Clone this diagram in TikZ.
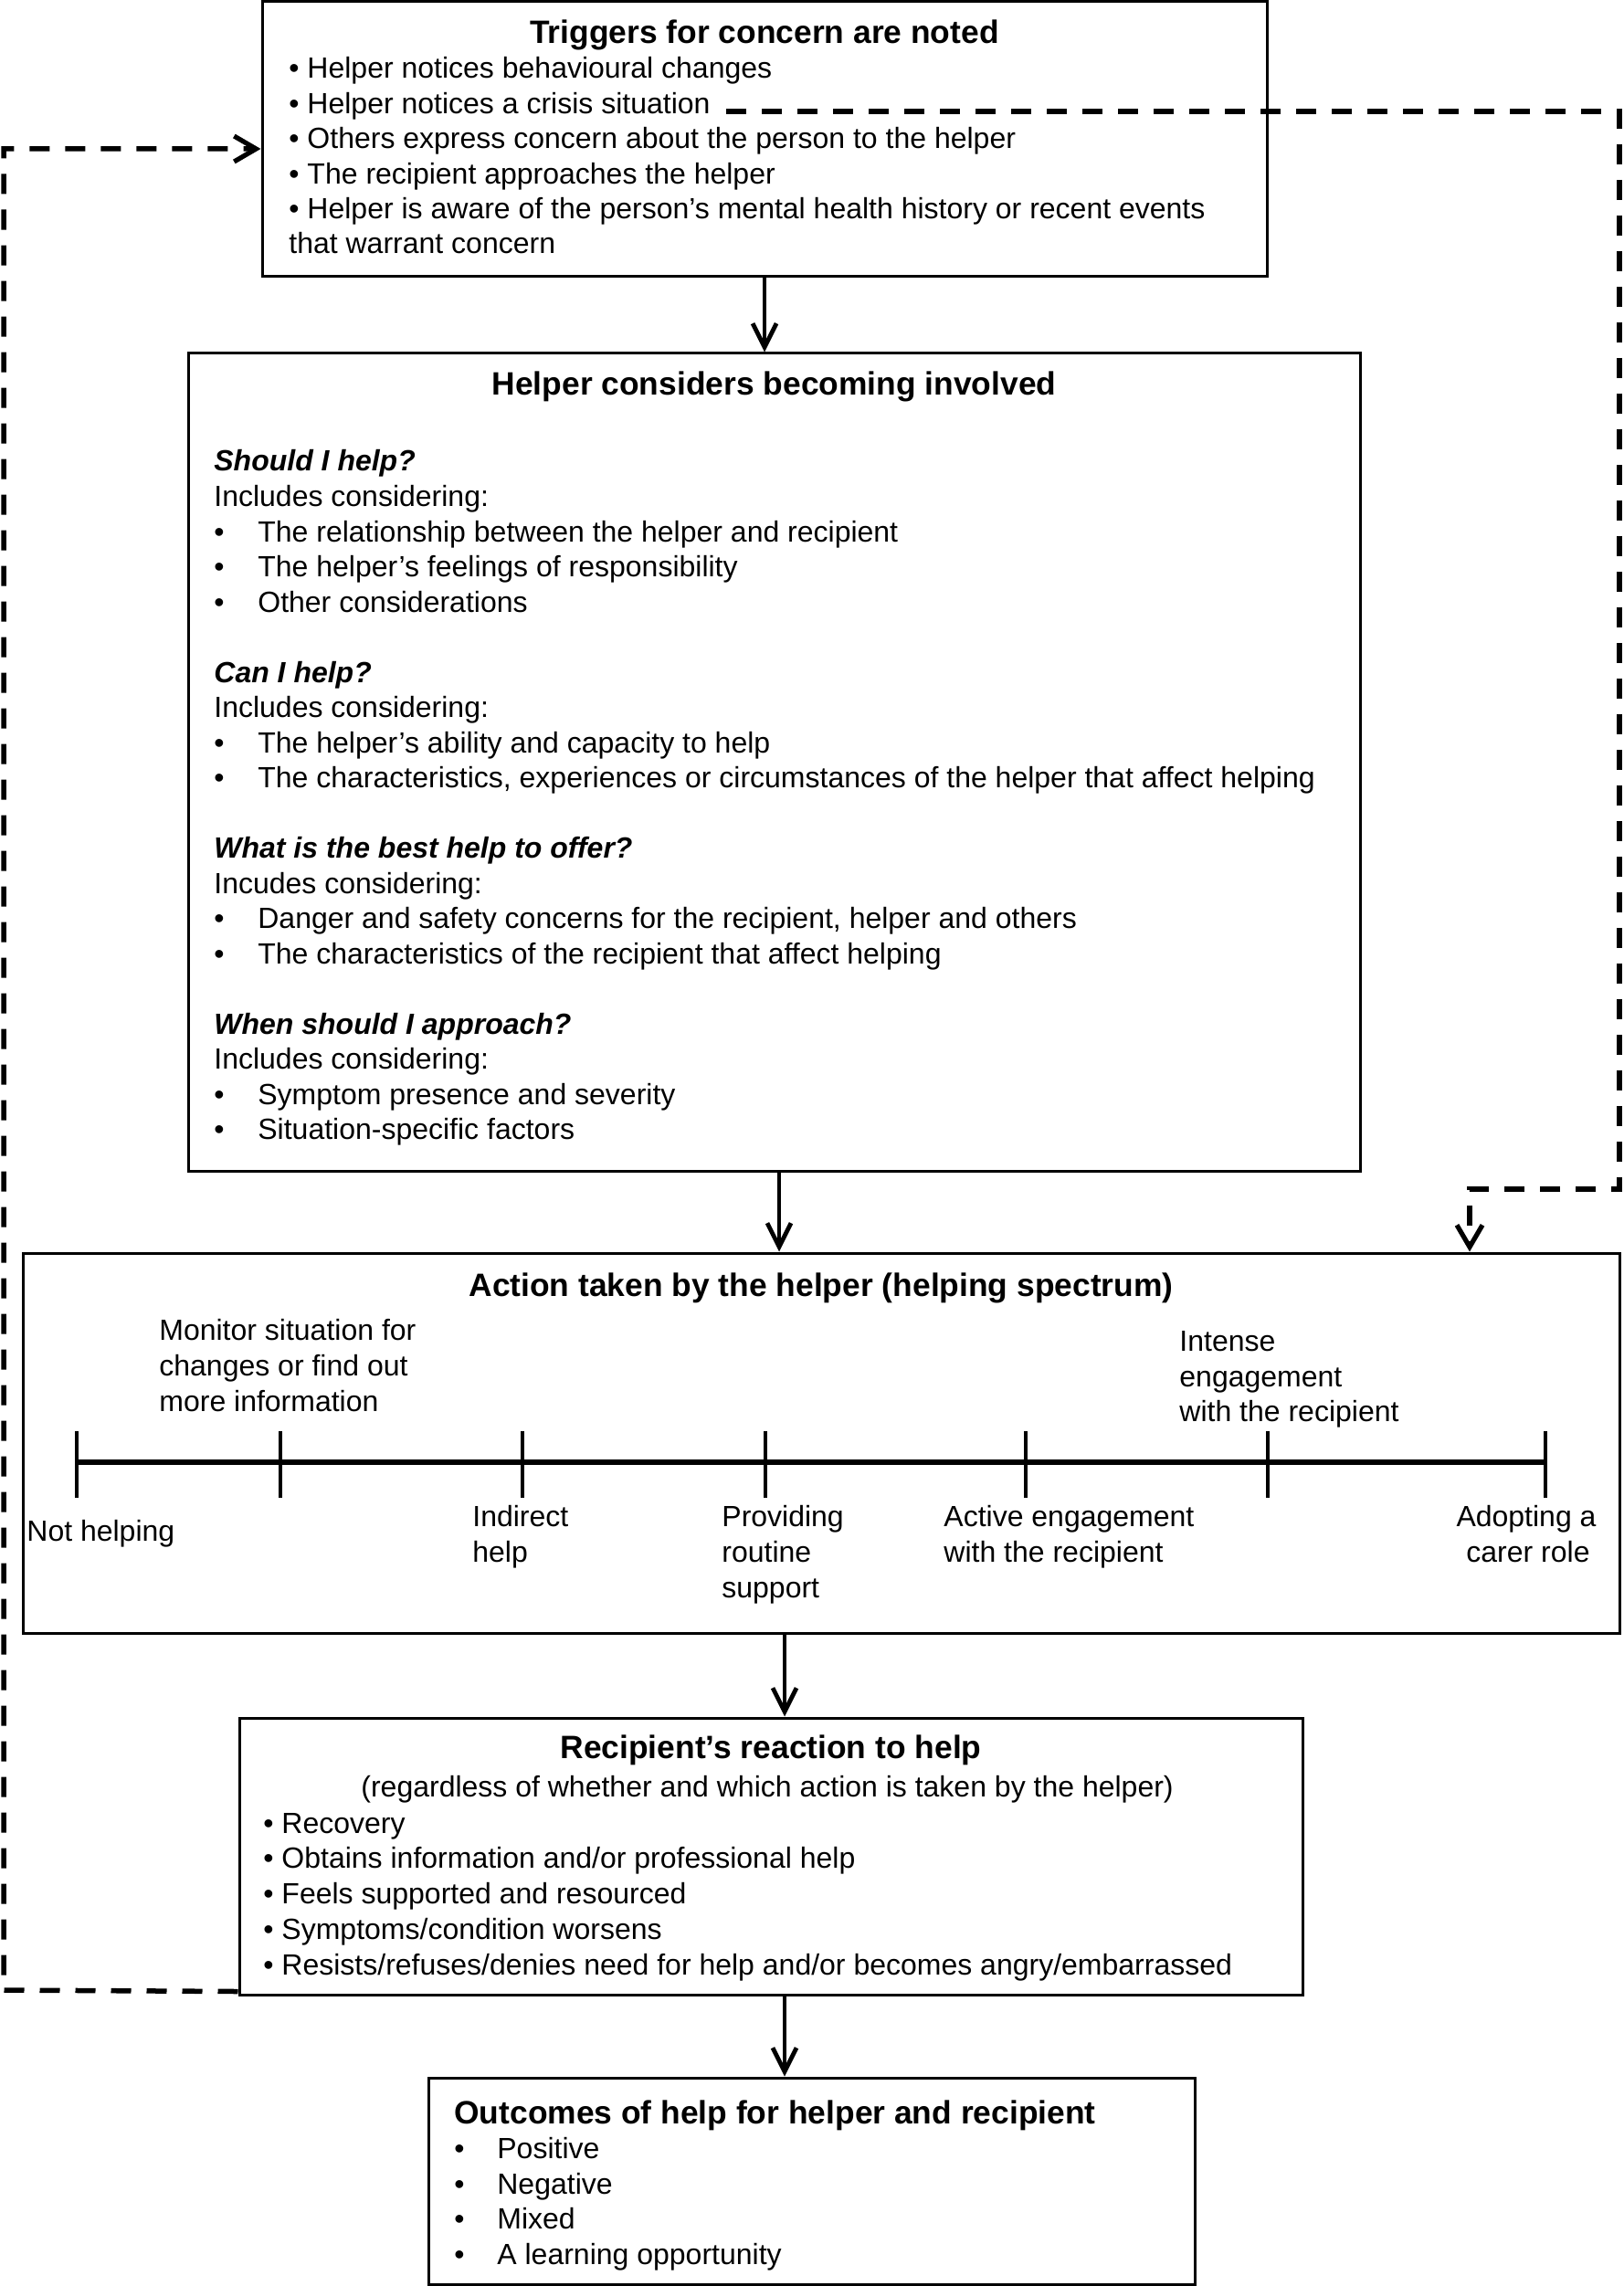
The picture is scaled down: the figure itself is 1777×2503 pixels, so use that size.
\documentclass[tikz,border=0pt]{standalone}
\usepackage{fontspec}
\setmainfont{Liberation Sans}
\usetikzlibrary{arrows.meta,calc}
\begin{document}
\begin{tikzpicture}[x=0.5pt,y=-0.5pt,
  box/.style={draw, line width=1.5pt, inner sep=0pt},
  txt/.style={anchor=base west, inner sep=0pt, font=\fontsize{16}{19}\selectfont},
  ctxt/.style={anchor=base, inner sep=0pt, font=\fontsize{16}{19}\selectfont},
  ttl/.style={anchor=base, inner sep=0pt, font=\fontsize{17.7}{21}\selectfont\bfseries},
  hd/.style={anchor=base west, inner sep=0pt, font=\fontsize{16}{19}\selectfont\bfseries\itshape},
  arr/.style={line width=2pt, -{Straight Barb[length=13pt,width=13pt,line width=2.4pt]}},
  darr/.style={line width=2.75pt, dash pattern=on 11pt off 8.5pt, -{Straight Barb[length=12pt,width=14pt,line width=2.6pt]}},
  spec/.style={line width=3.2pt},
  tick/.style={line width=2.4pt}]
\useasboundingbox (0,0) rectangle (1777,2503);
\fill[white] (0,0) rectangle (1777,2503);

% boxes
\node[box, minimum width=550pt, minimum height=150.5pt] (B1) at (837,152.5) {};
\node[box, minimum width=641.5pt, minimum height=447.5pt] (B2) at (847.5,834.5) {};
\node[box, minimum width=874pt, minimum height=208pt] (B3) at (899,1580) {};
\node[box, minimum width=582pt, minimum height=151.5pt] (B4) at (844,2032.5) {};
\node[box, minimum width=419.5pt, minimum height=113pt] (B5) at (888.5,2388) {};

% box 1 text
\node[ttl] (b1t) at (837,48) {Triggers for concern are noted};
\node[txt] (b1a) at (316,86) {• Helper notices behavioural changes};
\node[txt] (b1b) at (316,124.4) {• Helper notices a crisis situation};
\node[txt] (b1c) at (316,162.8) {• Others express concern about the person to the helper};
\node[txt] (b1d) at (316,201.2) {• The recipient approaches the helper};
\node[txt] (b1e) at (316,239.6) {• Helper is aware of the person’s mental health history or recent events};
\node[txt] (b1f) at (316,278) {that warrant concern};

% box 2 text
\node[ttl] (b2t) at (847.5,433) {Helper considers becoming involved};
\node[hd] (b2h1) at (234,516) {Should I help?};
\node[txt] (b2a) at (234,554.5) {Includes considering:};
\node[txt] (b2b) at (234,593) {\makebox[24pt][l]{•}The relationship between the helper and recipient};
\node[txt] (b2c) at (234,631.5) {\makebox[24pt][l]{•}The helper’s feelings of responsibility};
\node[txt] (b2d) at (234,670) {\makebox[24pt][l]{•}Other considerations};
\node[hd] (b2h2) at (234,747) {Can I help?};
\node[txt] (b2e) at (234,785.5) {Includes considering:};
\node[txt] (b2f) at (234,824) {\makebox[24pt][l]{•}The helper’s ability and capacity to help};
\node[txt] (b2g) at (234,862.5) {\makebox[24pt][l]{•}The characteristics, experiences or circumstances of the helper that affect helping};
\node[hd] (b2h3) at (234,939.5) {What is the best help to offer?};
\node[txt] (b2h) at (234,978) {Incudes considering:};
\node[txt] (b2i) at (234,1016.5) {\makebox[24pt][l]{•}Danger and safety concerns for the recipient, helper and others};
\node[txt] (b2j) at (234,1055) {\makebox[24pt][l]{•}The characteristics of the recipient that affect helping};
\node[hd] (b2h4) at (234,1132) {When should I approach?};
\node[txt] (b2k) at (234,1170.5) {Includes considering:};
\node[txt] (b2l) at (234,1209) {\makebox[24pt][l]{•}Symptom presence and severity};
\node[txt] (b2m) at (234,1247.5) {\makebox[24pt][l]{•}Situation-specific factors};

% box 3 text and spectrum
\node[ttl] (b3t) at (899,1419) {Action taken by the helper (helping spectrum)};
\node[txt] (m1) at (174,1467) {Monitor situation for};
\node[txt] (m2) at (174,1506) {changes or find out};
\node[txt] (m3) at (174,1545) {more information};
\node[txt] (i1) at (1291,1479) {Intense};
\node[txt] (i2) at (1291,1518) {engagement};
\node[txt] (i3) at (1291,1556) {with the recipient};
\node[txt] (n1) at (29,1687) {Not helping};
\node[txt] (d1) at (517,1671) {Indirect};
\node[txt] (d2) at (517,1710) {help};
\node[txt] (p1) at (790,1671) {Providing};
\node[txt] (p2) at (790,1710) {routine};
\node[txt] (p3) at (790,1749) {support};
\node[txt] (a1) at (1033,1671) {Active engagement};
\node[txt] (a2) at (1033,1710) {with the recipient};
\node[ctxt] (c1) at (1671,1671) {Adopting a};
\node[ctxt] (c2) at (1673,1710) {carer role};

\coordinate (s0) at (84,1601);
\coordinate (s6) at (1692,1601);
\draw[spec] (s0) -- (s6);
\foreach \xx in {84,307,572,838,1123,1388,1692}
  \draw[tick] (\xx,1567) -- (\xx,1640);

% box 4 text
\node[ttl] (b4t) at (844,1925) {Recipient’s reaction to help};
\node[txt] (b4s) at (395,1967) {(regardless of whether and which action is taken by the helper)};
\node[txt] (b4a) at (288,2007) {• Recovery};
\node[txt] (b4b) at (288,2045.7) {• Obtains information and/or professional help};
\node[txt] (b4c) at (288,2084.4) {• Feels supported and resourced};
\node[txt] (b4d) at (288,2123) {• Symptoms/condition worsens};
\node[txt] (b4e) at (288,2162) {• Resists/refuses/denies need for help and/or becomes angry/embarrassed};

% box 5 text
\node[ttl, anchor=base west] (b5t) at (497,2325) {Outcomes of help for helper and recipient};
\node[txt] (b5a) at (497,2363) {\makebox[23.5pt][l]{•}Positive};
\node[txt] (b5b) at (497,2402) {\makebox[23.5pt][l]{•}Negative};
\node[txt] (b5c) at (497,2440) {\makebox[23.5pt][l]{•}Mixed};
\node[txt] (b5d) at (497,2479) {\makebox[23.5pt][l]{•}A learning opportunity};

% solid connectors
\draw[arr] (B1.south) -- (B1.south |- B2.north);
\draw[arr] ([xshift=2.75pt]B2.south) -- ([xshift=2.75pt]B2.south |- B3.north);
\draw[arr] ([xshift=-20pt]B3.south) -- ([xshift=-20pt]B3.south |- B4.north);
\draw[arr] ([xshift=7.5pt]B4.south) -- ([xshift=7.5pt]B4.south |- B5.north);

% dashed feedback connectors
\coordinate (dR) at (795,122);
\draw[darr] (dR) -- (1773,122) -- (1773,1302) -- (1609,1302) -- (1609,1302 |- B3.north);
\draw[darr] ([yshift=2.5pt]B4.south west) -- (4,2179) -- (4,163) -- ([yshift=-5.25pt]B1.west);
\end{tikzpicture}
\end{document}
